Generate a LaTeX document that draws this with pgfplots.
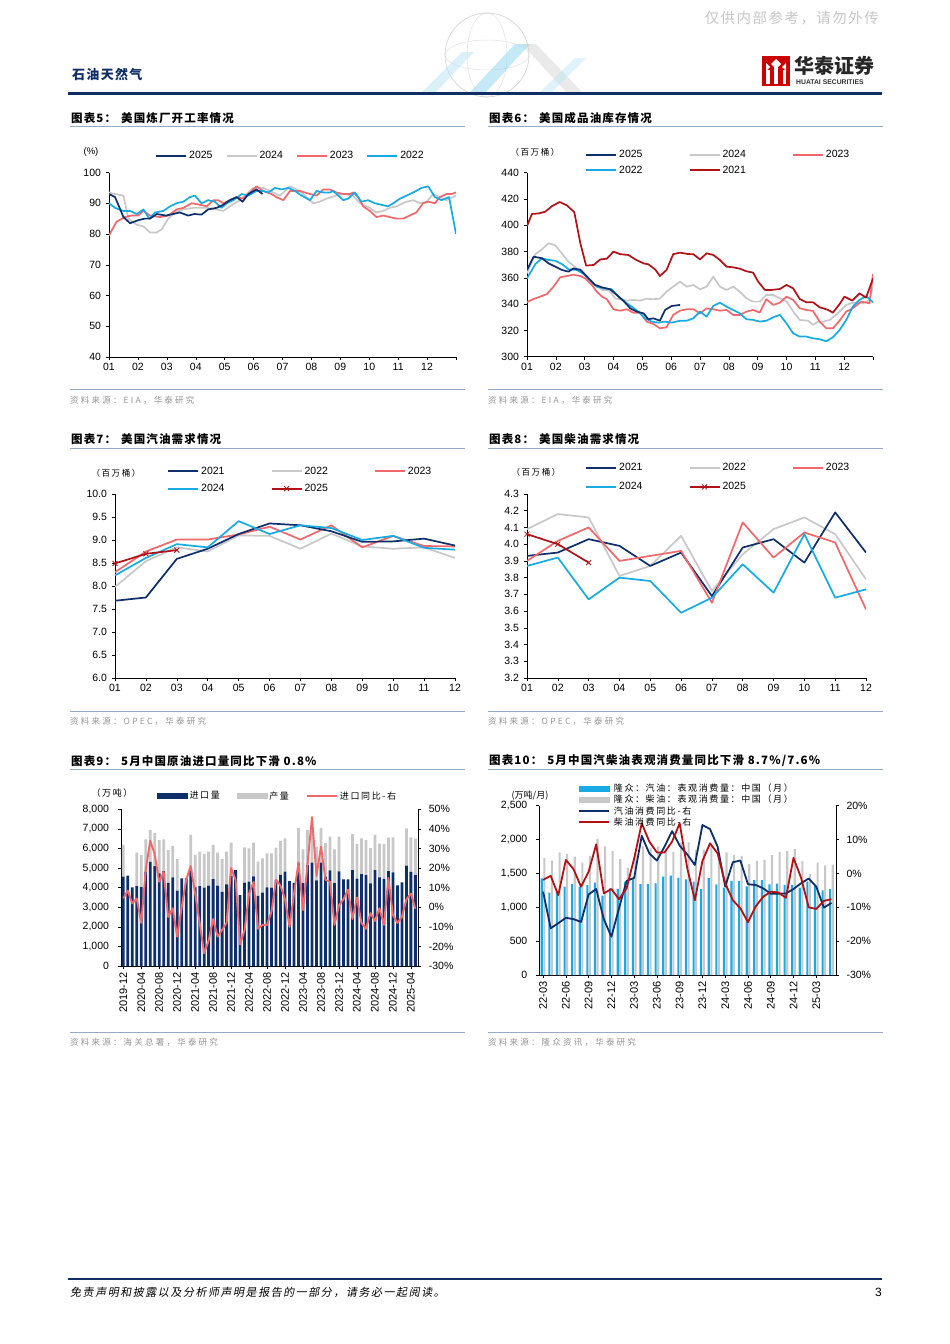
\documentclass[border=0pt]{standalone}
\usepackage{fontspec}
\setmainfont{Liberation Sans}
\newfontfamily\cjk{Noto Sans CJK SC}
\newfontfamily\cjksp{Noto Sans CJK SC}[LetterSpace=18]
\newfontfamily\cjksrc{Noto Sans CJK SC}[LetterSpace=26]
\newfontfamily\cjkt{Noto Sans CJK SC}[LetterSpace=10]
\newfontfamily\cjkit{Noto Sans CJK SC}[LetterSpace=14,FakeSlant=0.18]
\usepackage{pgfplots}
\usepackage{pgfplotstable}
\pgfplotsset{compat=1.18}

\newcommand\fsz[1]{\fontsize{#1}{#1}\selectfont}

\definecolor{navy}{RGB}{14,47,105}
\definecolor{lgray}{RGB}{200,200,200}
\definecolor{salmon}{RGB}{240,104,108}
\definecolor{cyanb}{RGB}{24,170,226}
\definecolor{dred}{RGB}{176,18,24}
\definecolor{rulec}{RGB}{150,170,196}
\definecolor{srcgray}{RGB}{150,150,150}
\definecolor{hdnavy}{RGB}{16,46,100}

\pgfplotsset{
  base/.style={scale only axis, axis x line*=bottom, axis y line*=left,
    tick align=outside, major tick length=3pt,
    tick style={black, line width=0.5pt},
    axis line style={black, line width=0.6pt},
    tick label style={font=\fsz{10.5}},
    yticklabel style={xshift=-1.5pt},
    /pgf/number format/assume math mode=true,
    legend cell align=left,
    legend image code/.code={\draw[mark repeat=2,mark phase=2,##1,line width=2pt] plot coordinates {(0pt,0pt) (15pt,0pt) (30pt,0pt)};},
    legend style={draw=none, fill=none, inner sep=0pt, font=\fsz{10.5}},
  },
  ln/.style={line width=1.7pt, line join=round, mark=none},
}

% China crude: idx (0 = 2019-12), imports, production (stacked), import yoy %
\pgfplotstableread{
idx imp prod yoy
0 4560 1620 4.5
1 4610 0 8.5
2 4020 0 2
3 4085 1700 4.5
4 4030 1640 -8
5 4800 1670 19
6 5320 1630 34
7 5105 1685 27
8 4730 1700 13
9 4850 1620 18
10 4250 1670 -5
11 4530 1600 -0.5
12 3850 1610 -15
13 4475 0 0
14 4475 0 14
15 4990 1700 21
16 4020 1650 7
17 4085 1750 -8
18 4000 1720 -23.5
19 4100 1740 -17
20 4440 1740 -6
21 4100 1690 -15
22 3780 1680 -11.6
23 4170 1670 -8
24 4600 1700 20
25 4900 0 14
26 3625 0 -19
27 4255 1800 -11.6
28 4305 1705 7
29 4580 1720 13
30 3575 1755 -11
31 3745 1755 -9
32 4015 1735 -9
33 4000 1750 -2
34 4400 1640 14
35 4650 1730 11
36 4815 1705 4
37 4330 0 -10
38 4250 0 7
39 5230 1820 23
40 4230 1720 -1.5
41 5150 1800 22
42 5280 1750 46
43 4370 1730 16
44 5280 1770 31
45 4570 1700 14
46 4880 1720 13
47 4230 1720 -9
48 4830 1770 1
49 4420 0 4
50 4420 0 9
51 4900 1850 -6
52 4460 1770 5
53 4690 1830 -8
54 4640 1790 -11
55 4220 1800 -3
56 4900 1800 -7
57 4530 1720 -0.5
58 4450 1780 -9
59 4850 1700 15
60 4780 1790 -4
61 4120 0 -8
62 4270 0 -5
63 5130 1900 4
64 4800 1770 7
65 4640 1860 -0.8
}\tabnine

% China gasoline / diesel apparent demand: idx (0 = 22-03)
\pgfplotstableread{
idx gas dsl gy dy
0 1427 1730 -5.4 -1.9
1 1215 1690 -16.2 -0.7
2 1240 1810 -14.7 -6.4
3 1304 1790 -13.1 4.0
4 1343 1750 -13.5 1.3
5 1304 1660 -14.3 -3.9
6 1329 1760 -6.2 0.5
7 1363 2010 -4.6 8.6
8 1171 1900 -13.5 -5.9
9 1279 1830 -18.7 -4.6
10 1270 1710 -10.3 -7.6
11 1380 1580 -2.2 -4.4
12 1420 1800 -1.3 4.4
13 1343 1900 11.1 14.8
14 1343 1880 5.9 9.4
15 1353 1900 3.8 6.2
16 1452 1850 7.9 6.2
17 1466 1820 12.5 9.4
18 1437 1960 8.2 14.8
19 1412 1960 5.6 1.5
20 1380 1850 2.5 -7.9
21 1270 1850 14.3 3.7
22 1430 1900 13.1 8.9
23 1340 1800 7.9 5.9
24 1290 1810 -3.9 -2.9
25 1390 1770 3.3 -7.9
26 1390 1760 3.8 -10.3
27 1310 1640 -3.2 -14.4
28 1400 1680 -3.4 -9.8
29 1400 1700 -4.4 -6.9
30 1340 1770 -6.0 -5.4
31 1350 1820 -6.0 -5.6
32 1330 1830 -5.9 -7.2
33 1330 1860 -4.6 4.6
34 1290 1680 -2.9 -1.3
35 1380 1490 -1.5 -10.0
36 1320 1660 -3.9 -10.5
37 1250 1620 -10.1 -8.1
38 1270 1630 -8.7 -7.6
}\tabten

\begin{document}
\begin{tikzpicture}[x=1pt,y=1pt]
\path[use as bounding box, fill=white] (0,0) rectangle (950,-1344);

% ---------- page header ----------
\node[anchor=east, inner sep=0, text=black!22] at (879,-18) {\cjkt\fsz{14.5}仅供内部参考，请勿外传};
\begin{scope}[opacity=0.45]
  \draw[black!35, line width=0.7pt] (487,-55) circle (42);
  \draw[black!25, line width=0.5pt] (487,-55) ellipse (20 and 42);
  \draw[black!25, line width=0.5pt] (487,-55) ellipse (42 and 15);
  \fill[cyanb!35] (422,-92) -- (462,-52) -- (474,-52) -- (436,-92) -- cycle;
  \fill[cyanb!55] (470,-92) -- (515,-44) -- (530,-44) -- (486,-92) -- cycle;
  \fill[black!18] (522,-44) -- (566,-92) -- (582,-92) -- (536,-44) -- cycle;
  \fill[cyanb!30] (540,-92) -- (575,-58) -- (586,-58) -- (552,-92) -- cycle;
\end{scope}
\node[anchor=west, inner sep=0, text=hdnavy] at (72,-75) {\cjkt\bfseries\fsz{13}石油天然气};
\fill[red!80!black] (762,-56) rectangle (790,-86);
\fill[white] (766,-84) rectangle (769.5,-70);
\fill[white] (774.3,-84) rectangle (777.7,-67);
\fill[white] (782.5,-84) rectangle (786,-70);
\fill[white] (776,-59) -- (781,-64) -- (776,-69) -- (771,-64) -- cycle;
\fill[white] (766,-63) -- (770,-67) -- (766,-71) -- cycle;
\fill[white] (786,-63) -- (782,-67) -- (786,-71) -- cycle;
\node[anchor=west, inner sep=0, text=black!85] at (794,-66) {\cjk\bfseries\fsz{20}华泰证券};
\node[anchor=west, inner sep=0, text=black!80] at (796,-82.5) {\bfseries\fsz{6.8}HUATAI SECURITIES};
\draw[hdnavy, line width=2.6pt] (68,-93.5) -- (882,-93.5);

% ---------- titles and rules ----------
\foreach \yt/\yl/\ys/\yr in {118/126.5/389.3/400, 439.5/448/711/721, 761/769.5/1032.5/1042}{
  \draw[rulec, line width=0.9pt] (70,-\yl) -- (465,-\yl);
  \draw[rulec, line width=0.9pt] (488,-\yl) -- (883,-\yl);
  \draw[rulec, line width=0.9pt] (70,-\ys) -- (465,-\ys);
  \draw[rulec, line width=0.9pt] (488,-\ys) -- (883,-\ys);
}
\node[anchor=west, inner sep=0] at (71,-118) {\cjkt\bfseries\fsz{11.5}图表5：\hspace{5pt}美国炼厂开工率情况};
\node[anchor=west, inner sep=0] at (489,-118) {\cjkt\bfseries\fsz{11.5}图表6：\hspace{5pt}美国成品油库存情况};
\node[anchor=west, inner sep=0] at (71,-439.5) {\cjkt\bfseries\fsz{11.5}图表7：\hspace{5pt}美国汽油需求情况};
\node[anchor=west, inner sep=0] at (489,-439.5) {\cjkt\bfseries\fsz{11.5}图表8：\hspace{5pt}美国柴油需求情况};
\node[anchor=west, inner sep=0] at (71,-761) {\cjkt\bfseries\fsz{11.5}图表9：\hspace{5pt}5月中国原油进口量同比下滑 0.8\%};
\node[anchor=west, inner sep=0] at (489,-761) {\cjkt\bfseries\fsz{11.5}图表10：\hspace{5pt}5月中国汽柴油表观消费量同比下滑 8.7\%/7.6\%};

\node[anchor=west, inner sep=0, text=srcgray] at (70,-400) {\cjksrc\fsz{8.5}资料来源：EIA，华泰研究};
\node[anchor=west, inner sep=0, text=srcgray] at (488,-400) {\cjksrc\fsz{8.5}资料来源：EIA，华泰研究};
\node[anchor=west, inner sep=0, text=srcgray] at (70,-721) {\cjksrc\fsz{8.5}资料来源：OPEC，华泰研究};
\node[anchor=west, inner sep=0, text=srcgray] at (488,-721) {\cjksrc\fsz{8.5}资料来源：OPEC，华泰研究};
\node[anchor=west, inner sep=0, text=srcgray] at (70,-1042) {\cjksrc\fsz{8.5}资料来源：海关总署，华泰研究};
\node[anchor=west, inner sep=0, text=srcgray] at (488,-1042) {\cjksrc\fsz{8.5}资料来源：隆众资讯，华泰研究};

% ---------- chart 5: refinery utilisation ----------
\begin{axis}[base, at={(109pt,-357pt)}, anchor=south west, width=347pt, height=184.5pt,
  xmin=1, xmax=13, ymin=40, ymax=100,
  xtick={1,2,...,13}, xticklabels={01,02,03,04,05,06,07,08,09,10,11,12,},
  ytick={40,50,...,100},
  legend columns=4,
  legend style={at={(0.1326,1.0894)}, anchor=west,
    /tikz/every even column/.append style={column sep=11pt}}]
\addlegendimage{ln, navy}\addlegendentry{2025}
\addlegendimage{ln, lgray}\addlegendentry{2024}
\addlegendimage{ln, salmon}\addlegendentry{2023}
\addlegendimage{ln, cyanb}\addlegendentry{2022}
\addplot[ln, lgray, forget plot] coordinates {(1.00,93.5)(1.21,93)(1.50,92.5)(1.67,85)(1.96,83)(2.19,82.5)(2.42,80.5)(2.65,80.5)(2.82,81.5)(3.05,85)(3.28,87)(3.57,88)(3.91,88.5)(4.15,88.5)(4.38,88.5)(4.72,88)(4.95,87.5)(5.18,89)(5.53,91)(5.76,93)(5.99,95)(6.33,95)(6.68,93.5)(6.91,92.5)(7.26,95.5)(7.60,94)(7.83,92)(8.06,90)(8.29,90.5)(8.52,91.5)(8.87,92.5)(9.10,93)(9.44,92.5)(9.68,90)(10.02,88.5)(10.25,87)(10.48,87.5)(10.71,88.5)(10.94,89)(11.29,90.5)(11.52,91)(11.75,90)(11.98,90.5)(12.21,93)(12.44,92)(12.67,91)(13.00,92.5)};
\addplot[ln, salmon, forget plot] coordinates {(1.00,79.5)(1.26,84)(1.55,85.5)(1.78,86)(2.01,86)(2.19,87.5)(2.42,86)(2.76,85.5)(3.05,86)(3.34,88)(3.57,88.5)(3.86,90)(4.15,89.5)(4.38,89)(4.61,91)(4.78,91)(4.95,90)(5.18,91)(5.41,92)(5.64,91.5)(5.82,93)(6.10,95.5)(6.33,94)(6.62,93)(6.79,92)(7.03,91)(7.26,94)(7.60,94)(7.95,93)(8.18,92.5)(8.41,94.5)(8.64,94.5)(8.87,93.5)(9.10,93)(9.33,93)(9.44,93.5)(9.62,92)(9.79,89)(10.02,87.5)(10.25,85.5)(10.48,86)(10.71,85.5)(10.94,85)(11.17,85)(11.40,86)(11.63,87)(11.86,90)(12.04,90.5)(12.27,90)(12.44,92)(12.67,93)(12.84,93)(13.00,93.5)};
\addplot[ln, cyanb, forget plot] coordinates {(1.00,90)(1.21,88.5)(1.50,87.5)(1.73,87.5)(1.96,86.5)(2.19,88)(2.39,85)(2.59,87)(2.88,87.5)(3.11,89)(3.34,90)(3.57,90.5)(3.80,92)(3.97,92.5)(4.20,90)(4.43,91)(4.66,90.5)(4.89,88.5)(5.07,90)(5.30,91)(5.59,93)(5.82,92.5)(6.10,94)(6.33,94)(6.51,93.5)(6.74,95)(6.97,94.5)(7.20,95)(7.43,94)(7.66,92.5)(7.95,91)(8.18,94)(8.41,93.5)(8.64,93.5)(8.75,94)(8.93,92.5)(9.10,91)(9.27,91.5)(9.50,93.5)(9.73,90.5)(9.96,91)(10.19,90)(10.42,89.5)(10.65,89)(10.83,90)(11.06,91.5)(11.29,92.5)(11.52,93.5)(11.81,95)(12.04,95.5)(12.27,92)(12.50,91)(12.76,92)(13.00,80)};
\addplot[ln, navy, forget plot] coordinates {(1.00,93)(1.21,92)(1.50,85.5)(1.73,83.5)(2.01,84.5)(2.24,85)(2.42,85)(2.65,86.5)(2.97,86)(3.22,86.5)(3.45,87)(3.74,86)(3.95,86.5)(4.20,86.3)(4.43,88)(4.72,88.5)(4.95,89.5)(5.18,91)(5.41,92)(5.62,90.5)(5.82,93)(6.10,94.5)(6.31,93)};
\end{axis}
\node[inner sep=0] at (91,-152) {\fsz{9.5}(\%)};

% ---------- chart 6: product inventories ----------
\begin{axis}[base, at={(527pt,-356.7pt)}, anchor=south west, width=346pt, height=184pt,
  xmin=1, xmax=13, ymin=300, ymax=440,
  xtick={1,2,...,13}, xticklabels={01,02,03,04,05,06,07,08,09,10,11,12,},
  ytick={300,320,...,440},
  legend columns=3,
  legend style={at={(0.1676,1.134)}, anchor=north west, row sep=3pt,
    /tikz/every even column/.append style={column sep=44pt}}]
\addlegendimage{ln, navy}\addlegendentry{2025}
\addlegendimage{ln, lgray}\addlegendentry{2024}
\addlegendimage{ln, salmon}\addlegendentry{2023}
\addlegendimage{ln, cyanb}\addlegendentry{2022}
\addlegendimage{ln, dred}\addlegendentry{2021}
\addplot[ln, lgray, forget plot] coordinates {(1.00,363.4)(1.29,378)(1.52,381.7)(1.75,386.3)(1.98,384.7)(2.21,378.6)(2.44,372.3)(2.73,367.2)(2.90,366)(3.13,358.4)(3.36,354.6)(3.60,350.8)(3.83,350.8)(4.06,344.4)(4.23,343.7)(4.46,342.7)(4.69,343.2)(4.92,342.7)(5.15,344.2)(5.38,343.7)(5.61,344.2)(5.84,349.5)(6.07,353.3)(6.31,357.1)(6.54,353.3)(6.77,354.6)(7.00,351.3)(7.23,353.3)(7.46,360.9)(7.69,353.3)(7.92,350.8)(8.15,353.3)(8.38,349.5)(8.61,344.4)(8.84,341.9)(9.07,341.9)(9.30,347)(9.54,347)(9.77,344.4)(10.00,341.9)(10.28,333)(10.46,328)(10.75,327.4)(10.92,324.2)(11.09,326.7)(11.27,326.7)(11.50,328)(11.78,333)(12.07,339.4)(12.30,341.1)(12.65,340.6)(12.88,343.2)(13.00,353.3)};
\addplot[ln, salmon, forget plot] coordinates {(1.00,341.6)(1.23,343.9)(1.46,345.7)(1.69,347.7)(1.92,353.3)(2.15,360.4)(2.38,361.4)(2.61,362.4)(2.85,361.4)(3.02,359.6)(3.25,354.6)(3.42,349.5)(3.60,345.7)(3.77,343.7)(4.00,336.1)(4.23,335)(4.46,336.1)(4.69,333.5)(4.92,333.5)(5.15,326.7)(5.38,324.9)(5.61,321.6)(5.84,322.4)(6.07,331.8)(6.31,335)(6.54,336.1)(6.77,336.1)(7.00,333)(7.23,336.8)(7.46,336.1)(7.69,335)(7.92,335.6)(8.15,331.8)(8.38,331.8)(8.61,334.3)(8.84,335.6)(9.07,333.5)(9.30,343.7)(9.54,339.4)(9.77,341.1)(10.00,345.7)(10.23,343.2)(10.46,336.8)(10.69,335.6)(10.92,334.8)(11.15,326.7)(11.38,321.6)(11.61,321.6)(11.84,327.4)(12.07,334.3)(12.30,336.8)(12.59,341.9)(12.88,340.6)(13.00,362.9)};
\addplot[ln, cyanb, forget plot] coordinates {(1.00,359.6)(1.29,370.5)(1.52,374.9)(1.75,373.6)(1.98,373)(2.21,370.5)(2.44,366.5)(2.73,366)(2.96,363)(3.19,358.4)(3.42,353.3)(3.65,352)(3.94,351.3)(4.17,345.7)(4.40,341.6)(4.63,338.1)(4.86,334.3)(5.09,329.2)(5.33,326.7)(5.56,325.9)(5.79,326.7)(6.02,325.9)(6.31,327.4)(6.54,327.4)(6.77,329.2)(7.00,334.3)(7.23,330.5)(7.46,338.6)(7.69,341.1)(7.92,338.1)(8.15,335.6)(8.38,333)(8.61,328.5)(8.84,328)(9.07,326.7)(9.30,327.4)(9.54,330)(9.77,331.8)(10.00,325.4)(10.23,317.8)(10.46,315.3)(10.69,315.3)(10.92,314)(11.15,313.3)(11.38,311.7)(11.61,314.8)(11.84,320.3)(12.07,327.9)(12.30,338.1)(12.53,343.2)(12.76,346)(13.00,341.4)};
\addplot[ln, dred, forget plot] coordinates {(1.00,399.4)(1.17,408.6)(1.40,409)(1.63,410.3)(1.87,414.6)(2.13,417.7)(2.38,415.2)(2.64,410)(2.85,386.3)(3.05,369.3)(3.31,369.8)(3.54,374)(3.77,374.6)(4.00,380)(4.23,378)(4.52,377.4)(4.75,374.1)(5.04,371)(5.21,370.3)(5.44,366.5)(5.61,361.4)(5.84,366)(6.07,378)(6.31,379.2)(6.59,378.1)(6.77,378)(7.00,374)(7.23,378.7)(7.46,377.4)(7.69,373.6)(7.92,368.5)(8.15,368)(8.38,367)(8.61,365)(8.84,364)(9.02,357)(9.25,350.8)(9.48,350.8)(9.77,351.5)(10.00,354.6)(10.23,352)(10.46,343.9)(10.69,341.4)(10.92,341.4)(11.15,337.6)(11.44,335.6)(11.61,333.5)(11.84,340)(12.01,345.7)(12.28,342.7)(12.53,348.2)(12.76,345)(13.00,359.6)};
\addplot[ln, navy, forget plot] coordinates {(1.00,366)(1.23,376.1)(1.52,374.9)(1.75,371)(1.98,368.5)(2.21,366)(2.44,364.7)(2.61,367.2)(2.85,366)(3.08,360.9)(3.36,354.6)(3.60,352.8)(3.88,351.3)(4.11,347)(4.35,342.4)(4.58,336.8)(4.81,334.3)(5.04,333)(5.21,328.5)(5.38,329.2)(5.61,327.4)(5.79,335.6)(6.02,338.6)(6.31,339.4)};
\end{axis}
\node[inner sep=0] at (535,-152) {\cjksp\fsz{8.5}（百万桶）};

% ---------- chart 7: US gasoline demand ----------
\begin{axis}[base, at={(115pt,-678pt)}, anchor=south west, width=340pt, height=184pt,
  xmin=1, xmax=12, ymin=6, ymax=10,
  xtick={1,2,...,12}, xticklabels={01,02,03,04,05,06,07,08,09,10,11,12},
  ytick={6,6.5,...,10},
  yticklabel style={/pgf/number format/.cd, fixed, fixed zerofill, precision=1},
  legend columns=3,
  legend style={at={(0.153,1.159)}, anchor=north west, row sep=4.5pt,
    /tikz/every even column/.append style={column sep=44pt}}]
\addlegendimage{ln, navy}\addlegendentry{2021}
\addlegendimage{ln, lgray}\addlegendentry{2022}
\addlegendimage{ln, salmon}\addlegendentry{2023}
\addlegendimage{ln, cyanb}\addlegendentry{2024}
\addlegendimage{ln, dred, mark=x, mark size=3.5pt, mark options={line width=0.8pt}}\addlegendentry{2025}
\addplot[ln, lgray, forget plot] coordinates {(1,7.98)(2,8.54)(3,8.84)(4,8.75)(5,9.10)(6,9.09)(7,8.81)(8,9.14)(9,8.86)(10,8.81)(11,8.84)(12,8.61)};
\addplot[ln, salmon, forget plot] coordinates {(1,8.30)(2,8.75)(3,9.01)(4,9.01)(5,9.12)(6,9.29)(7,9.01)(8,9.32)(9,8.84)(10,9.09)(11,8.87)(12,8.86)};
\addplot[ln, navy, forget plot] coordinates {(1,7.68)(2,7.75)(3,8.59)(4,8.81)(5,9.13)(6,9.36)(7,9.32)(8,9.19)(9,8.96)(10,8.97)(11,9.03)(12,8.88)};
\addplot[ln, cyanb, forget plot] coordinates {(1,8.23)(2,8.61)(3,8.91)(4,8.84)(5,9.41)(6,9.13)(7,9.32)(8,9.26)(9,9.00)(10,9.09)(11,8.83)(12,8.79)};
\addplot[ln, dred, mark=x, mark size=3.5pt, mark options={line width=0.8pt}, forget plot] coordinates {(1,8.49)(2,8.70)(3,8.78)};
\end{axis}
\node[inner sep=0] at (116,-473) {\cjksp\fsz{8.5}（百万桶）};

% ---------- chart 8: US diesel demand ----------
\begin{axis}[base, at={(527pt,-678pt)}, anchor=south west, width=339pt, height=184pt,
  xmin=1, xmax=12, ymin=3.2, ymax=4.3,
  xtick={1,2,...,12}, xticklabels={01,02,03,04,05,06,07,08,09,10,11,12},
  ytick={3.2,3.3,3.4,3.5,3.6,3.7,3.8,3.9,4.0,4.1,4.2,4.3},
  yticklabel style={/pgf/number format/.cd, fixed, fixed zerofill, precision=1},
  legend columns=3,
  legend style={at={(0.1711,1.177)}, anchor=north west, row sep=6pt,
    /tikz/every even column/.append style={column sep=44pt}}]
\addlegendimage{ln, navy}\addlegendentry{2021}
\addlegendimage{ln, lgray}\addlegendentry{2022}
\addlegendimage{ln, salmon}\addlegendentry{2023}
\addlegendimage{ln, cyanb}\addlegendentry{2024}
\addlegendimage{ln, dred, mark=x, mark size=3.5pt, mark options={line width=0.8pt}}\addlegendentry{2025}
\addplot[ln, lgray, forget plot] coordinates {(1,4.09)(2,4.18)(3,4.16)(4,3.81)(5,3.87)(6,4.05)(7,3.72)(8,3.94)(9,4.09)(10,4.16)(11,4.06)(12,3.79)};
\addplot[ln, navy, forget plot] coordinates {(1,3.93)(2,3.95)(3,4.03)(4,3.99)(5,3.87)(6,3.95)(7,3.69)(8,3.98)(9,4.03)(10,3.89)(11,4.19)(12,3.95)};
\addplot[ln, salmon, forget plot] coordinates {(1,3.90)(2,4.02)(3,4.10)(4,3.90)(5,3.93)(6,3.96)(7,3.65)(8,4.13)(9,3.92)(10,4.07)(11,4.01)(12,3.61)};
\addplot[ln, cyanb, forget plot] coordinates {(1,3.87)(2,3.92)(3,3.67)(4,3.80)(5,3.78)(6,3.59)(7,3.68)(8,3.88)(9,3.71)(10,4.06)(11,3.68)(12,3.73)};
\addplot[ln, dred, mark=x, mark size=3.5pt, mark options={line width=0.8pt}, forget plot] coordinates {(1,4.06)(2,4.00)(3,3.89)};
\end{axis}
\node[inner sep=0] at (536,-472) {\cjksp\fsz{8.5}（百万桶）};

% ---------- chart 9: China crude imports ----------
\begin{axis}[base, at={(121pt,-966pt)}, anchor=south west, width=297.3pt, height=156.7pt,
  xmin=-0.5, xmax=65.65, ymin=0, ymax=8000,
  ytick={0,1000,...,8000}, scaled y ticks=false,
  yticklabel style={xshift=-4pt, /pgf/number format/.cd, 1000 sep={,}},
  xtick={0,4,...,64},
  xticklabels={2019-12,2020-04,2020-08,2020-12,2021-04,2021-08,2021-12,2022-04,2022-08,2022-12,2023-04,2023-08,2023-12,2024-04,2024-08,2024-12,2025-04},
  xticklabel style={rotate=90, anchor=east, font=\fsz{11}},
  ybar stacked, bar width=0.62]
\addplot[fill=navy, draw=none] table[x=idx, y=imp]{\tabnine};
\addplot[fill=lgray, draw=none] table[x=idx, y=prod]{\tabnine};
\end{axis}
\begin{axis}[base, at={(121pt,-966pt)}, anchor=south west, width=297.3pt, height=156.7pt,
  xmin=-0.5, xmax=65.65, ymin=-30, ymax=50,
  axis x line=none, axis y line*=right,
  ytick={-30,-20,...,50}, yticklabel={\pgfmathprintnumber{\tick}\%},
  yticklabel style={xshift=5.5pt},
  legend columns=3,
  legend style={at={(0.1212,1.085)}, anchor=west, font=\fsz{9},
    /tikz/every even column/.append style={column sep=15pt}}]
\addlegendimage{legend image code/.code={\fill[navy] (0pt,-2.4pt) rectangle (30pt,2.4pt);}}
\addlegendentry{\cjksp 进口量}
\addlegendimage{legend image code/.code={\fill[lgray] (0pt,-2.4pt) rectangle (30pt,2.4pt);}}
\addlegendentry{\cjksp 产量}
\addplot[salmon, line width=1.9pt, line join=round, mark=none] table[x=idx, y=yoy]{\tabnine};
\addlegendentry{\cjksp 进口同比-右}
\end{axis}
\node[inner sep=0] at (112,-793) {\cjksp\fsz{9}（万吨）};

% ---------- chart 10: China gasoline / diesel demand ----------
\begin{axis}[base, at={(539.3pt,-975pt)}, anchor=south west, width=296.7pt, height=169.3pt,
  xmin=-0.5, xmax=38.6, ymin=0, ymax=2500,
  ytick={0,500,...,2500}, scaled y ticks=false,
  yticklabel style={xshift=-4pt, /pgf/number format/.cd, 1000 sep={,}},
  xtick={0,3,...,36},
  xticklabels={22-03,22-06,22-09,22-12,23-03,23-06,23-09,23-12,24-03,24-06,24-09,24-12,25-03},
  xticklabel style={rotate=90, anchor=east, font=\fsz{11}}]
\addplot[ybar, bar width=0.28, bar shift=-0.17, fill=cyanb, draw=none] table[x=idx, y=gas]{\tabten};
\addplot[ybar, bar width=0.28, bar shift=0.17, fill=lgray, draw=none] table[x=idx, y=dsl]{\tabten};
\end{axis}
\begin{axis}[base, at={(539.3pt,-975pt)}, anchor=south west, width=296.7pt, height=169.3pt,
  xmin=-0.5, xmax=38.6, ymin=-30, ymax=20,
  axis x line=none, axis y line*=right,
  ytick={-30,-20,...,20}, yticklabel={\pgfmathprintnumber{\tick}\%},
  yticklabel style={xshift=5.5pt},
  legend columns=1,
  legend style={at={(0.1294,1.135)}, anchor=north west, font=\fsz{9}, row sep=0pt,
    nodes={inner sep=1pt},
    /tikz/every odd column/.append style={column sep=3pt}}]
\addlegendimage{legend image code/.code={\fill[cyanb] (0pt,-2.6pt) rectangle (30pt,2.6pt);}}
\addlegendentry{\cjksp 隆众：汽油：表观消费量：中国（月）}
\addlegendimage{legend image code/.code={\fill[lgray] (0pt,-2.6pt) rectangle (30pt,2.6pt);}}
\addlegendentry{\cjksp 隆众：柴油：表观消费量：中国（月）}
\addplot[navy, line width=1.8pt, line join=round, mark=none] table[x=idx, y=gy]{\tabten};
\addlegendentry{\cjksp 汽油消费同比-右}
\addplot[dred, line width=1.8pt, line join=round, mark=none] table[x=idx, y=dy]{\tabten};
\addlegendentry{\cjksp 柴油消费同比-右}
\end{axis}
\node[inner sep=0] at (530,-796) {\cjk\fsz{9}(万吨/月)};

% ---------- footer ----------
\draw[hdnavy, line width=2.6pt] (68,-1279) -- (882,-1279);
\node[anchor=west, inner sep=0] at (70,-1292) {\cjkit\fsz{11}免责声明和披露以及分析师声明是报告的一部分，请务必一起阅读。};
\node[anchor=east, inner sep=0] at (882,-1292) {\fsz{12}3};
\end{tikzpicture}
\end{document}
